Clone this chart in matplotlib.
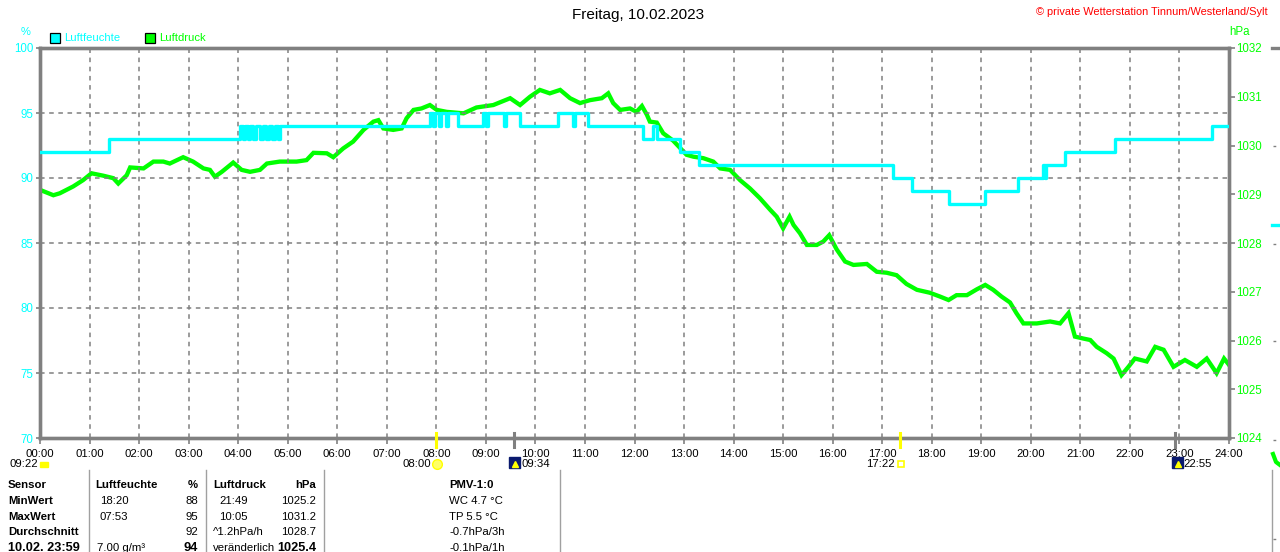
import matplotlib
matplotlib.use("Agg")
import matplotlib.pyplot as plt
from matplotlib.transforms import blended_transform_factory
from matplotlib.lines import Line2D
from matplotlib.patches import Rectangle

plt.rcParams['font.family'] = ['Liberation Sans', 'DejaVu Sans']

# ---------------- data ----------------
hour_labels = ["%02d:00" % h for h in range(25)]
hum_ticks = [70, 75, 80, 85, 90, 95, 100]
pres_ticks = [1024, 1025, 1026, 1027, 1028, 1029, 1030, 1031, 1032]

# humidity (%) step changes: time in hours
hum_t = [0.00, 1.39, 4.04, 4.10, 4.14, 4.20, 4.24, 4.30, 4.36, 4.44, 4.50, 4.56,
         4.62, 4.68, 4.74, 4.80, 4.84, 7.87, 7.93, 7.98, 8.05, 8.10, 8.20, 8.24,
         8.44, 8.94, 9.00, 9.05, 9.36, 9.41, 9.69, 10.46, 10.75, 10.80, 11.06,
         12.17, 12.37, 12.45, 12.92, 13.30, 17.22, 17.60, 18.35, 19.08, 19.74,
         20.25, 20.28, 20.31, 20.69, 21.70, 23.66, 24.00]
hum_v = [92, 93, 94, 93, 94, 93, 94, 93, 94, 93, 94, 93,
         94, 93, 94, 93, 94, 95, 94, 95, 94, 95, 94, 95,
         94, 95, 94, 95, 94, 95, 94, 95, 94, 95, 94,
         93, 94, 93, 92, 91, 90, 89, 88, 89, 90,
         91, 90, 91, 92, 93, 94, 94]

# air pressure (hPa): time in hours
pres_t = [0.00, 0.27, 0.40, 0.67, 0.87, 1.04, 1.28, 1.48, 1.58, 1.75, 1.82, 2.09,
          2.29, 2.49, 2.62, 2.89, 3.09, 3.30, 3.43, 3.53, 3.67, 3.90, 4.07, 4.24,
          4.44, 4.58, 4.84, 5.18, 5.38, 5.52, 5.79, 5.92, 6.12, 6.32, 6.53, 6.73,
          6.83, 6.93, 7.13, 7.30, 7.40, 7.54, 7.70, 7.87, 8.01, 8.21, 8.55, 8.81,
          9.15, 9.49, 9.69, 9.89, 10.09, 10.29, 10.50, 10.70, 10.90, 11.10, 11.34,
          11.47, 11.57, 11.71, 11.91, 12.04, 12.15, 12.25, 12.31, 12.45, 12.58,
          12.78, 13.05, 13.19, 13.39, 13.59, 13.73, 13.93, 14.13, 14.33, 14.53,
          14.74, 14.87, 15.00, 15.13, 15.21, 15.34, 15.48, 15.68, 15.81, 15.93,
          16.08, 16.25, 16.42, 16.69, 16.89, 17.09, 17.29, 17.49, 17.70, 17.96,
          18.17, 18.34, 18.50, 18.71, 18.91, 19.08, 19.24, 19.41, 19.58, 19.71,
          19.85, 20.12, 20.39, 20.59, 20.76, 20.89, 21.06, 21.20, 21.33, 21.53,
          21.67, 21.83, 21.97, 22.10, 22.34, 22.51, 22.68, 22.88, 23.11, 23.35,
          23.55, 23.75, 23.90, 24.00]
pres_v = [1029.09, 1028.98, 1029.02, 1029.16, 1029.29, 1029.43, 1029.38, 1029.33,
          1029.22, 1029.39, 1029.55, 1029.53, 1029.67, 1029.67, 1029.63, 1029.76,
          1029.67, 1029.53, 1029.50, 1029.36, 1029.46, 1029.65, 1029.50, 1029.46,
          1029.50, 1029.63, 1029.67, 1029.67, 1029.70, 1029.85, 1029.84, 1029.76,
          1029.94, 1030.08, 1030.32, 1030.49, 1030.52, 1030.35, 1030.32, 1030.35,
          1030.56, 1030.73, 1030.76, 1030.83, 1030.73, 1030.69, 1030.66, 1030.78,
          1030.83, 1030.97, 1030.83, 1031.00, 1031.14, 1031.07, 1031.14, 1030.97,
          1030.87, 1030.93, 1030.97, 1031.07, 1030.87, 1030.73, 1030.76, 1030.69,
          1030.81, 1030.63, 1030.49, 1030.47, 1030.25, 1030.10, 1029.81, 1029.77,
          1029.74, 1029.67, 1029.53, 1029.50, 1029.29, 1029.12, 1028.92, 1028.68,
          1028.54, 1028.30, 1028.54, 1028.37, 1028.20, 1027.96, 1027.96, 1028.03,
          1028.16, 1027.87, 1027.62, 1027.55, 1027.57, 1027.41, 1027.39, 1027.34,
          1027.16, 1027.04, 1026.98, 1026.90, 1026.83, 1026.93, 1026.93, 1027.05,
          1027.14, 1027.04, 1026.90, 1026.78, 1026.56, 1026.35, 1026.35, 1026.39,
          1026.35, 1026.56, 1026.08, 1026.04, 1026.01, 1025.87, 1025.74, 1025.63,
          1025.29, 1025.46, 1025.63, 1025.57, 1025.87, 1025.81, 1025.46, 1025.60,
          1025.46, 1025.63, 1025.33, 1025.63, 1025.50]

# astro events (hours) and labels
event_t = [8.00, 9.567, 17.367, 22.917]
event_lbl = ["08:00", "09:34", "17:22", "22:55"]

# table texts
tbl_rows = ["Sensor", "MinWert", "MaxWert", "Durchschnitt", "10.02. 23:59"]
tbl_hum_time = ["18:20", "07:53", "", "7.00 g/m³"]
tbl_hum_val = ["88", "95", "92", "94"]
tbl_pres_time = ["21:49", "10:05", "^1.2hPa/h", "veränderlich"]
tbl_pres_val = ["1025.2", "1031.2", "1028.7", "1025.4"]
tbl_pmv = ["WC 4.7 °C", "TP 5.5 °C", "-0.7hPa/3h", "-0.1hPa/1h"]

CYAN = "#00FFFF"
GREEN = "#00FF00"
GRAY = "#808080"

W, H = 1280, 552
fig = plt.figure(figsize=(W / 100, H / 100), dpi=100)

def fx(px):
    return px / W

def fy(py):
    return 1 - py / H

L, R, T, B = 40, 1229, 48, 438
ax = fig.add_axes([fx(L), fy(B), fx(R) - fx(L), fy(T) - fy(B)])
ax2 = ax.twinx()

ax.set_xlim(0, 24)
ax.set_ylim(70, 100)
ax2.set_ylim(1024, 1032)

# grid
for h in range(1, 24):
    ax.axvline(h, color=GRAY, lw=1.1, ls=(0, (3, 3)), zorder=0)
for v in hum_ticks[1:-1]:
    ax.axhline(v, color=GRAY, lw=1.1, ls=(0, (3, 3)), zorder=0)

ax2.plot(pres_t, pres_v, color=GREEN, lw=3.1, solid_joinstyle='miter', zorder=3)
ax.plot(hum_t, hum_v, color=CYAN, lw=2.4, drawstyle='steps-post', zorder=4)
ax.set_zorder(ax2.get_zorder() + 1)
ax.patch.set_visible(False)

for a in (ax, ax2):
    for s in a.spines.values():
        s.set_color(GRAY)
        s.set_linewidth(2.4)

ax.set_xticks(range(25))
ax.set_xticklabels(hour_labels, fontsize=8.2, color='black')
ax.tick_params(axis='x', direction='out', length=4, width=1.2, color=GRAY, pad=4)
ax.set_yticks(hum_ticks)
ax.set_yticklabels([str(v) for v in hum_ticks], fontsize=8.3, color=CYAN)
ax.tick_params(axis='y', direction='out', length=3, width=1.2, color=GRAY, pad=1.5)
ax2.set_yticks(pres_ticks)
ax2.set_yticklabels([str(v) for v in pres_ticks], fontsize=8.3, color=GREEN)
ax2.tick_params(axis='y', direction='out', length=4, width=1.2, color=GRAY, pad=1.5)

# astro event markers crossing bottom axis
tr = blended_transform_factory(ax.transData, ax.transAxes)
ev_colors = ["#FFFF00", GRAY, "#FFFF00", GRAY]
for t, c in zip(event_t, ev_colors):
    ax.plot([t, t], [0.013, -0.024], color=c, lw=2.2, transform=tr, clip_on=False, zorder=6)

# labels below axis
ylab = fy(464)
tfs = 8.2
fig.text(fx(10), ylab, "09:22", fontsize=tfs, va='center', ha='left')
fig.patches.append(Rectangle((fx(40), fy(467)), fx(8), 5 / H, transform=fig.transFigure,
                             color="#FFFF00", ec="#FFFF00"))
fig.text(fx(431), ylab, event_lbl[0], fontsize=tfs, va='center', ha='right')
fig.lines.append(Line2D([fx(437)], [ylab], marker='o', ms=7, mfc="#FFFF66", mec="#FFFF00",
                        transform=fig.transFigure))
fig.patches.append(Rectangle((fx(509), fy(468)), fx(11), 11 / H, transform=fig.transFigure,
                             color="#0A1A6E"))
fig.lines.append(Line2D([fx(514.5)], [ylab], marker='^', ms=4, color="#FFFF00",
                        transform=fig.transFigure))
fig.text(fx(521), ylab, event_lbl[1], fontsize=tfs, va='center', ha='left')
fig.text(fx(895), ylab, event_lbl[2], fontsize=tfs, va='center', ha='right')
fig.lines.append(Line2D([fx(901)], [ylab], marker='s', ms=5, mfc='white', mec="#FFFF00",
                        mew=1.2, transform=fig.transFigure))
fig.patches.append(Rectangle((fx(1172), fy(468)), fx(11), 11 / H, transform=fig.transFigure,
                             color="#0A1A6E"))
fig.lines.append(Line2D([fx(1177.5)], [ylab], marker='^', ms=4, color="#FFFF00",
                        transform=fig.transFigure))
fig.text(fx(1183), ylab, event_lbl[3], fontsize=tfs, va='center', ha='left')

# titles
fig.text(fx(638), fy(15), "Freitag, 10.02.2023", fontsize=11, ha='center', va='center')
fig.text(fx(1268), fy(12), "© private Wetterstation Tinnum/Westerland/Sylt", fontsize=7.9,
         ha='right', va='center', color='red')
fig.text(fx(26), fy(32), "%", fontsize=8, ha='center', va='center', color=CYAN)
fig.text(fx(1240), fy(32), "hPa", fontsize=8.3, ha='center', va='center', color=GREEN)

# legend
for x0, col, lbl in [(50, CYAN, "Luftfeuchte"), (145, GREEN, "Luftdruck")]:
    fig.patches.append(Rectangle((fx(x0), fy(43)), fx(10), 10 / H, transform=fig.transFigure,
                                 fc=col, ec='black', lw=0.9))
    fig.text(fx(x0 + 14), fy(38), lbl, fontsize=8.1, ha='left', va='center', color=col)

# table
row_y = [485, 501, 517, 532, 548]
for px in [89, 206, 324, 560, 1272]:
    fig.lines.append(Line2D([fx(px), fx(px)], [fy(470), fy(552)], color="#A0A0A0", lw=1,
                            transform=fig.transFigure))
fs = 8.2
fs_last = 9.2
for i, (r, yy) in enumerate(zip(tbl_rows, row_y)):
    fig.text(fx(8), fy(yy), r, fontsize=fs_last if i == 4 else fs, fontweight='bold',
             va='center')
fig.text(fx(95), fy(row_y[0]), "Luftfeuchte", fontsize=fs, fontweight='bold', va='center')
fig.text(fx(198), fy(row_y[0]), "%", fontsize=fs, fontweight='bold', va='center', ha='right')
fig.text(fx(213), fy(row_y[0]), "Luftdruck", fontsize=fs, fontweight='bold', va='center')
fig.text(fx(316), fy(row_y[0]), "hPa", fontsize=fs, fontweight='bold', va='center', ha='right')
fig.text(fx(449), fy(row_y[0]), "PMV-1:0", fontsize=fs, fontweight='bold', va='center')
for i in range(4):
    yy = fy(row_y[i + 1])
    last = (i == 3)
    f = fs_last if last else fs
    fig.text(fx(100 if i < 2 else 97), yy, tbl_hum_time[i], fontsize=fs, va='center')
    fig.text(fx(198), yy, tbl_hum_val[i], fontsize=f, va='center', ha='right',
             fontweight='bold' if last else 'normal')
    fig.text(fx(219 if i < 2 else 213), yy, tbl_pres_time[i], fontsize=fs, va='center')
    fig.text(fx(316), yy, tbl_pres_val[i], fontsize=f, va='center',
             ha='right', fontweight='bold' if last else 'normal')
    fig.text(fx(449), yy, tbl_pmv[i], fontsize=fs, va='center')

# partial neighbouring chart at the right edge
fig.lines.append(Line2D([fx(1272), fx(1280)], [fy(48), fy(48)], color=GRAY, lw=2.4,
                        transform=fig.transFigure))
for py in [146, 244, 341, 440, 539]:
    fig.lines.append(Line2D([fx(1273), fx(1280)], [fy(py), fy(py)], color=GRAY, lw=1,
                            ls=(0, (2, 3)), transform=fig.transFigure))
fig.lines.append(Line2D([fx(1272), fx(1280)], [fy(225), fy(225)], color=CYAN, lw=2.4,
                        transform=fig.transFigure))
fig.lines.append(Line2D([fx(1273), fx(1276), fx(1280)], [fy(454), fy(462), fy(465)],
                        color=GREEN, lw=3, transform=fig.transFigure))

fig.savefig("out.png", dpi=100, facecolor='white')
